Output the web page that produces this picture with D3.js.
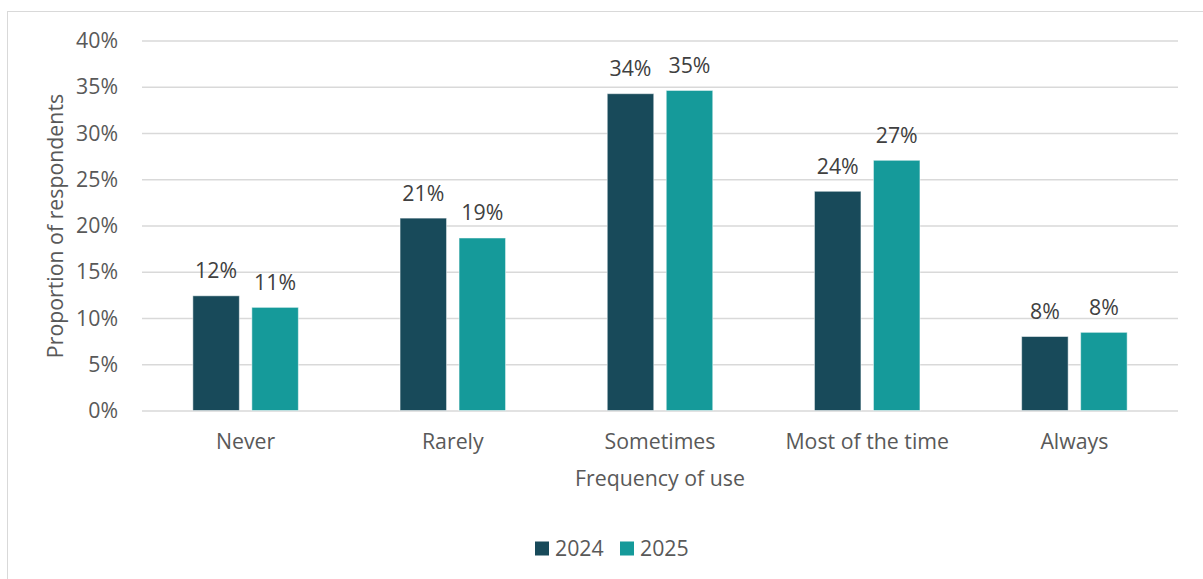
<!DOCTYPE html>
<html>
<head>
<meta charset="utf-8">
<script src="https://cdn.jsdelivr.net/npm/d3@7/dist/d3.min.js"></script>
<style>
  html, body { margin: 0; padding: 0; background: #fff; }
  svg { display: block; font-family: "Open Sans", "Noto Sans", sans-serif; }
</style>
</head>
<body>
<svg id="chart" width="1203" height="579"></svg>
<script>
// Frequency categories and survey shares (percent of respondents)
const categories = ["Never", "Rarely", "Sometimes", "Most of the time", "Always"];
const seriesNames = ["2024", "2025"];
const values2024 = [12.4, 20.8, 34.25, 23.7, 8.0];
const values2025 = [11.15, 18.65, 34.6, 27.05, 8.45];
const valueLabels2024 = ["12%", "21%", "34%", "24%", "8%"];
const valueLabels2025 = ["11%", "19%", "35%", "27%", "8%"];
const yTicks = [0, 5, 10, 15, 20, 25, 30, 35, 40];
const seriesColors = ["#184A5A", "#159A9A"];

const svg = d3.select("#chart");
const W = 1203, H = 579;
const plot = { left: 142, right: 1178, top: 40.5, bottom: 410.5 };
const FS = 21.3;
const textColor = "#595959";

// Chart frame (extends past the right and bottom edges)
svg.append("rect")
  .attr("x", 7.5).attr("y", 11.5)
  .attr("width", W + 20).attr("height", H + 20)
  .attr("fill", "#fff").attr("stroke", "#d9d9d9").attr("stroke-width", 1);

const x0 = d3.scaleBand().domain(categories).range([plot.left, plot.right]).padding(0);
const y = d3.scaleLinear().domain([0, 40]).range([plot.bottom, plot.top]);

const barW = 46.5, barGap = 12.5;
const x1 = d3.scaleOrdinal().domain(seriesNames)
  .range([-(barW + barGap / 2), barGap / 2]);

// Horizontal gridlines + y tick labels
const yAxis = d3.axisLeft(y).tickValues(yTicks).tickFormat(d => d + "%")
  .tickSize(-(plot.right - plot.left)).tickPadding(24);
const gy = svg.append("g").attr("transform", `translate(${plot.left},0)`).call(yAxis);
gy.select(".domain").remove();
gy.selectAll(".tick line").attr("stroke", "#d9d9d9").attr("stroke-width", 1.5);
gy.selectAll(".tick text")
  .attr("fill", textColor).attr("font-size", FS).attr("dy", "0.33em")
  .attr("font-family", "'Open Sans', sans-serif");

// Category axis labels
const xAxis = d3.axisBottom(x0).tickSize(0);
const gx = svg.append("g").attr("transform", `translate(0,${plot.bottom})`).call(xAxis);
gx.select(".domain").remove();
gx.selectAll(".tick text")
  .attr("y", 38.5).attr("dy", 0)
  .attr("fill", textColor).attr("font-size", FS)
  .attr("font-family", "'Open Sans', sans-serif");

// Bars
const rows = categories.map((c, i) => ({
  cat: c,
  items: [
    { s: "2024", v: values2024[i], label: valueLabels2024[i], color: seriesColors[0] },
    { s: "2025", v: values2025[i], label: valueLabels2025[i], color: seriesColors[1] }
  ]
}));

const groups = svg.append("g").selectAll("g").data(rows).join("g")
  .attr("transform", d => `translate(${x0(d.cat) + x0.bandwidth() / 2},0)`);

groups.selectAll("rect").data(d => d.items).join("rect")
  .attr("x", d => x1(d.s))
  .attr("y", d => y(d.v))
  .attr("width", barW)
  .attr("height", d => y(0) - y(d.v))
  .attr("fill", d => d.color)
  .attr("stroke", "#ffffff").attr("stroke-opacity", 0.5).attr("stroke-width", 1);

groups.selectAll("text").data(d => d.items).join("text")
  .attr("x", d => x1(d.s) + barW / 2)
  .attr("y", d => y(d.v) - 17.5)
  .attr("text-anchor", "middle")
  .attr("fill", "#404040").attr("font-size", FS)
  .text(d => d.label);

// Axis titles
svg.append("text")
  .attr("x", (plot.left + plot.right) / 2).attr("y", 485.5)
  .attr("text-anchor", "middle").attr("fill", textColor).attr("font-size", FS)
  .text("Frequency of use");

svg.append("text")
  .attr("transform", `translate(63,226) rotate(-90)`)
  .attr("text-anchor", "middle").attr("fill", textColor).attr("font-size", FS)
  .text("Proportion of respondents");

// Legend
const legend = svg.append("g").attr("transform", "translate(535,0)");
const legendItems = seriesNames.map((s, i) => ({ s, color: seriesColors[i], dx: i * 85 }));
const li = legend.selectAll("g").data(legendItems).join("g")
  .attr("transform", d => `translate(${d.dx},0)`);
li.append("rect").attr("x", 0).attr("y", 541.5).attr("width", 14).attr("height", 14)
  .attr("fill", d => d.color);
li.append("text").attr("x", 20).attr("y", 555.5)
  .attr("fill", textColor).attr("font-size", FS)
  .text(d => d.s);
</script>
</body>
</html>
